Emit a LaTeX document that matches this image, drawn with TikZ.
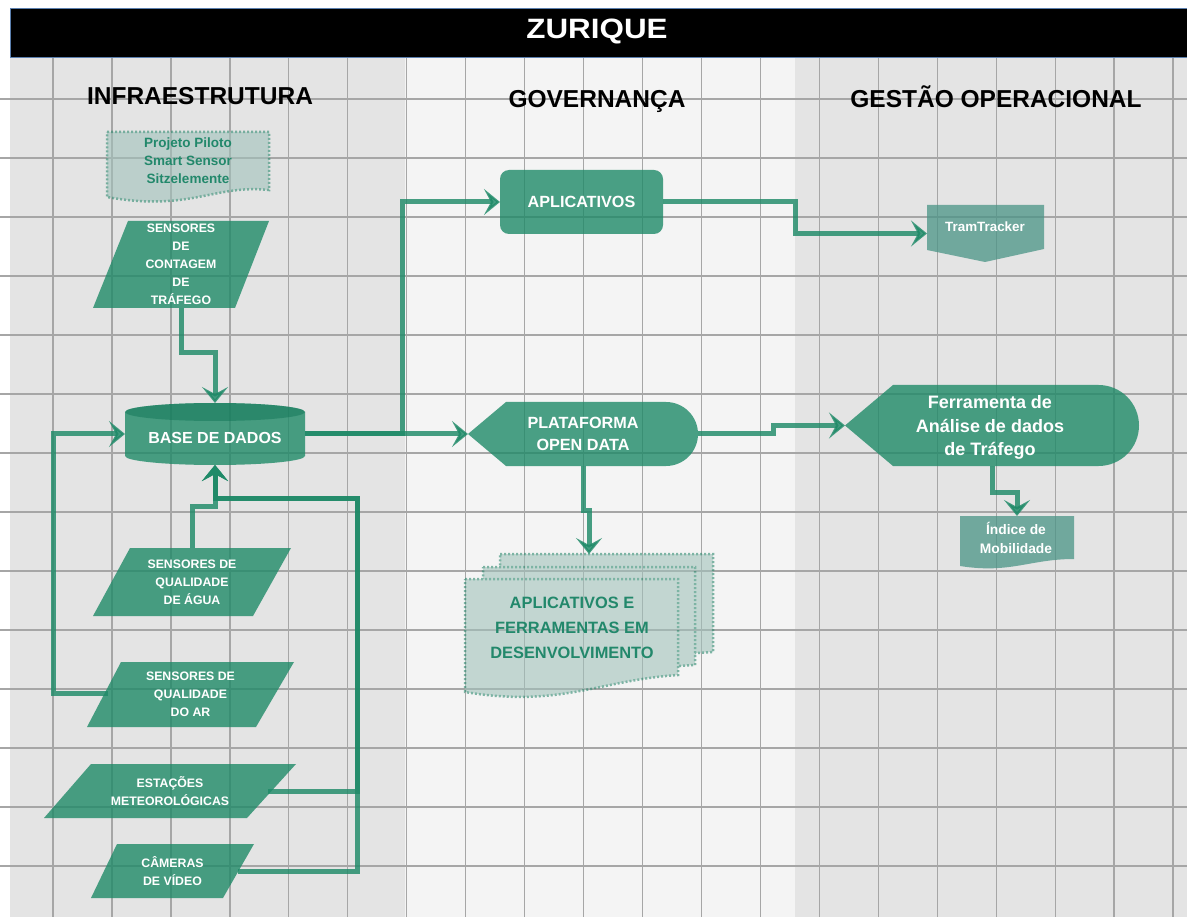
\documentclass[tikz,border=0pt]{standalone}
\usepackage{graphicx}
\usepackage{fontspec}
\setmainfont{Liberation Sans}
\usetikzlibrary{arrows.meta}

\definecolor{panelA}{HTML}{E4E4E4}
\definecolor{panelB}{HTML}{F4F4F4}
\definecolor{gridc}{HTML}{A6A6A6}
\definecolor{leaf}{HTML}{1F8A68}
\definecolor{leafdark}{HTML}{15785A}
\definecolor{slate}{HTML}{4A9486}
\definecolor{mist}{HTML}{A1C2BB}
\definecolor{dotc}{HTML}{2E8A70}
\definecolor{inkteal}{HTML}{22886B}
\definecolor{barline}{HTML}{5B7FAE}

\begin{document}
\begin{tikzpicture}[x=1pt,y=-1pt,
  gridline/.style={draw=gridc, line width=1.3pt},
  solidshape/.style={fill=leaf, fill opacity=0.8},
  slateshape/.style={fill=slate, fill opacity=0.75},
  docshape/.style={fill=mist, draw=dotc, line width=2.5pt, dash pattern=on 2pt off 2pt},
  anch/.style={inner sep=0pt, outer sep=0pt, align=center},
  hdr/.style={anchor=base, inner sep=0pt, font=\fontsize{24.5}{28}\selectfont\bfseries, text=black},
  capw/.style={anch, text=white, font=\fontsize{12.3}{18}\selectfont\bfseries},
  bigw/.style={anch, text=white, font=\fontsize{16.2}{22}\selectfont\bfseries},
  softtxt/.style={anch, text=inkteal, font=\bfseries},
  conn/.style={draw=leaf, line width=5pt, opacity=0.82, -{Stealth[length=16pt,width=26pt,inset=7pt]}}
]

\useasboundingbox (0,0) rectangle (1187,917);
\fill[white] (0,0) rectangle (1187,917);

% column panels
\fill[panelA] (10,57) rectangle (405,917);
\fill[panelB] (405,57) rectangle (795,917);
\fill[panelA] (795,57) rectangle (1187,917);

% square grid
\foreach \k in {0,...,19}
  \draw[gridline] ({53+58.95*\k},57) -- ({53+58.95*\k},917);
\foreach \k in {0,...,13}
  \draw[gridline] (0,{99+59*\k}) -- (1187,{99+59*\k});

% title bar
\fill[black] (10,8) rectangle (1187,57);
\draw[barline, line width=0.8pt] (10,8) rectangle (1187,57);
\node[anchor=base, inner sep=0pt, text=white, font=\fontsize{28}{32}\selectfont\bfseries] (title) at (597,39) {\scalebox{1.12}[1]{ZURIQUE}};

% column headings
\node[hdr] (hinfra) at (200,105) {INFRAESTRUTURA};
\node[hdr] (hgov) at (597,108) {GOVERNANÇA};
\node[hdr] (hops) at (996,108) {GESTÃO OPERACIONAL};

% ---------- shapes ----------
% input parallelograms
\fill[solidshape] (128,221) -- (269,221) -- (235,308) -- (93,308) -- cycle;
\fill[solidshape] (130,548) -- (291,548) -- (253,616) -- (93,616) -- cycle;
\fill[solidshape] (121,662) -- (294,662) -- (256,727) -- (87,727) -- cycle;
\fill[solidshape] (91,764) -- (296,764) -- (247,818) -- (44,818) -- cycle;
\fill[solidshape] (117,844) -- (254,844) -- (223,898) -- (91,898) -- cycle;

% database cylinder
\fill[solidshape] (125,412) -- (125,456) arc[start angle=180, end angle=0, x radius=90, y radius=9]
  -- (305,412) arc[start angle=0, end angle=-180, x radius=90, y radius=9] -- cycle;
\fill[leafdark, fill opacity=0.55] (215,412) ellipse [x radius=90, y radius=9];

% applications box
\fill[solidshape, rounded corners=9pt] (500,170) rectangle (663,234);

% display shapes
\fill[solidshape] (468,434) -- (506,402) -- (666,402) arc[start angle=-90, end angle=90, radius=32] -- (506,466) -- cycle;
\fill[solidshape] (845,425.5) -- (893,385) -- (1098.5,385) arc[start angle=-90, end angle=90, radius=40.5] -- (893,466) -- cycle;

% off-page connector and small document
\fill[slateshape] (927,205) -- (1044,205) -- (1044,249) -- (985,262) -- (927,250) -- cycle;
\fill[slateshape] (960,516) -- (1074,516) -- (1074,559) .. controls (1030,559) and (1010,574) .. (960,566) -- cycle;

% dotted documents
\begin{scope}[transparency group, opacity=0.6]
  \filldraw[docshape] (107,132) -- (269,132) -- (269,190) .. controls (215,184) and (190,212) .. (107,197) -- cycle;
\end{scope}
\begin{scope}[transparency group, opacity=0.6]
  \filldraw[docshape] (500,554) -- (713,554) -- (713,652) .. controls (640,655) and (600,680) .. (500,668) -- cycle;
  \filldraw[docshape] (483,567) -- (695,567) -- (695,665) .. controls (620,668) and (580,693) .. (483,681) -- cycle;
  \filldraw[docshape] (465,579) -- (678,579) -- (678,675) .. controls (600,680) and (560,708) .. (465,692) -- cycle;
\end{scope}

% ---------- nodes ----------
\node[softtxt, font=\fontsize{13.5}{18}\selectfont\bfseries] (pilot) at (188,161) {Projeto Piloto\\Smart Sensor\\Sitzelemente};
\node[capw, minimum width=176, minimum height=87] (cont) at (181,264.5) {SENSORES\\DE\\CONTAGEM\\DE\\TRÁFEGO};
\node[anch, minimum width=180, minimum height=62] (base) at (215,434) {};
\node[anch, text=white, font=\fontsize{16}{20}\selectfont\bfseries] (basetxt) at (215,438) {BASE DE DADOS};
\node[capw, minimum width=198, minimum height=68] (water) at (192,582) {SENSORES DE\\QUALIDADE\\DE ÁGUA};
\node[capw] (air) at (190.5,694.5) {SENSORES DE\\QUALIDADE\\DO AR};
\node[capw] (meteo) at (170,791) {ESTAÇÕES\\METEOROLÓGICAS};
\node[capw] (cam) at (172.5,871) {CÂMERAS\\DE VÍDEO};

\node[bigw, minimum width=163, minimum height=64] (apps) at (581.5,202) {APLICATIVOS};
\node[bigw, minimum width=230, minimum height=64] (open) at (583,434) {PLATAFORMA\\OPEN DATA};
\node[softtxt, font=\fontsize{16.4}{25}\selectfont\bfseries] (dev) at (572,628) {APLICATIVOS E\\FERRAMENTAS EM\\DESENVOLVIMENTO};

\node[anch, minimum width=117, minimum height=57] (tram) at (985.5,233.5) {};
\node[anch, text=white, font=\fontsize{13.4}{16}\selectfont\bfseries] (tramtxt) at (985,227) {TramTracker};
\node[anch, minimum width=294, minimum height=81] (ferr) at (992,425.5) {};
\node[anch, text=white, font=\fontsize{18}{23.5}\selectfont\bfseries] (ferrtxt) at (990,427.5) {Ferramenta de\\Análise de dados\\de Tráfego};
\node[anch, minimum width=114, minimum height=53] (ind) at (1017,542.5) {};
\node[anch, text=white, font=\fontsize{13.8}{19}\selectfont\bfseries] (indtxt) at (1016,538) {Índice de\\Mobilidade};

% connector end points and bends
\coordinate (j1) at (402,434);
\coordinate (j2) at (795,202);
\coordinate (j3) at (773,434);
\coordinate (j4) at (357,498);
\coordinate (j5) at (53,693);
\coordinate (devin) at (589,554);
\coordinate (airout) at (108,693);
\coordinate (meteoout) at (268,791);
\coordinate (camout) at (238,871);

% ---------- connectors ----------
\draw[conn] (cont.south) -- ++(0,45) -| (base.north);
\draw[conn] (base.east) -- (j1) |- (apps.west);
\draw[conn] (base.east) -- (open.west);
\draw[conn] (apps.east) -- (j2) |- (tram.west);
\draw[conn] (open.east) -- (j3) |- (ferr.west);
\draw[conn] (open.south) -- ++(0,44) -| (devin);
\draw[conn] (ferr.south) -- ++(0,26) -| (ind.north);
\draw[conn] (water.north) -- ++(0,-42) -| (base.south);
\draw[conn] (meteoout) -| (j4) -| (base.south);
\draw[conn] (camout) -| (j4) -| (base.south);
\draw[conn] (airout) -- (j5) |- (base.west);

\end{tikzpicture}
\end{document}
